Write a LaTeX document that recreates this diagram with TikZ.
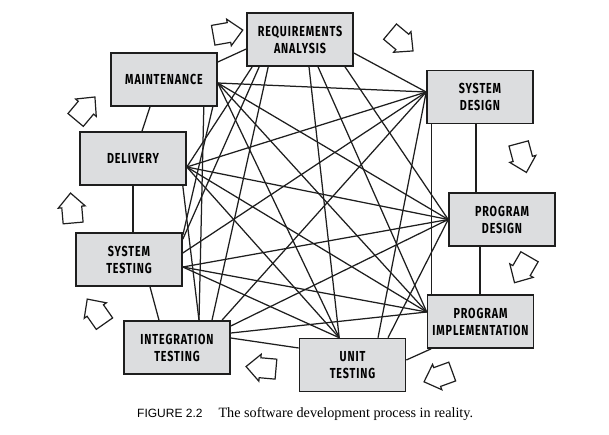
\documentclass[tikz,border=0pt]{standalone}
\usepackage{fontspec}
\newfontfamily\boxfont[FakeStretch=0.74,LetterSpace=6]{Fira Sans}
\newfontfamily\capsans{Liberation Sans}
\newfontfamily\capserif{Liberation Serif}
\definecolor{boxfill}{HTML}{DCDDDF}
\definecolor{ink}{HTML}{1E1E1E}
\pgfdeclarelayer{background}
\pgfsetlayers{background,main}
\tikzset{
  stage/.style={draw=ink, line width=1.6pt, fill=boxfill, minimum width=106pt,
    minimum height=53pt, inner sep=0pt, align=center,
    font=\boxfont\bfseries\fontsize{14.5}{17}\selectfont},
  link/.style={draw=ink, line width=1.25pt},
  cyclearrow/.pic={\draw[ink, line width=1.2pt, fill=white, line join=miter]
    (-13,-10) -- (3,-10) -- (3,-13.5) -- (17,0) -- (3,13.5) -- (3,10) -- (-13,10) -- cycle;}
}
\begin{document}
\begin{tikzpicture}[x=1pt,y=1pt]
\useasboundingbox (0,0) rectangle (609,-434);
\node[stage] (ra) at (300,-39.5) {REQUIREMENTS\\ANALYSIS};
\node[stage] (m)  at (164,-79.5) {MAINTENANCE};
\node[stage] (d)  at (133,-158.5) {DELIVERY};
\node[stage] (sd) at (480,-97) {SYSTEM\\DESIGN};
\node[stage] (pd) at (502,-219.5) {PROGRAM\\DESIGN};
\node[stage] (pi) at (480.5,-321.5) {PROGRAM\\IMPLEMENTATION};
\node[stage] (ut) at (352.5,-365) {UNIT\\TESTING};
\node[stage] (it) at (177,-347.5) {INTEGRATION\\TESTING};
\node[stage] (st) at (129,-259.5) {SYSTEM\\TESTING};
\begin{pgfonlayer}{background}
% Requirements analysis
\draw[link] ([yshift=-9.5pt]ra.west) -- ([yshift=17.5pt]m.east);
\draw[link] ([yshift=-13.5pt]ra.east) -- ([yshift=5pt]sd.west);
\draw[link] ([xshift=6pt]ra.south west) -- ([yshift=-8.5pt]d.east);
\draw[link] ([xshift=13pt]ra.south west) -- ([yshift=-7pt]st.north east);
\draw[link] ([xshift=22pt]ra.south west) -- ([xshift=35pt]it.north);
\draw[link] ([xshift=9pt]ra.south) -- ([xshift=40.5pt]ut.north west);
\draw[link] ([xshift=18pt]ra.south) -- ([yshift=9.5pt]pi.west);
\draw[link] ([xshift=45pt]ra.south) -- (pd.west);
% Maintenance
\draw[link] ([xshift=-14pt]m.south) -- ([xshift=9pt]d.north);
\draw[link] ([xshift=-14pt]m.south east) -- ([xshift=22pt]it.north);
\draw[link] ([xshift=-5pt]m.south east) -- ([yshift=-3pt]st.north east);
\draw[link] ([yshift=-3.5pt]m.east) -- ([yshift=5pt]sd.west);
\draw[link] ([yshift=-3.5pt]m.east) -- (pd.west);
\draw[link] ([yshift=-3.5pt]m.east) -- ([yshift=9.5pt]pi.west);
\draw[link] ([yshift=-3.5pt]m.east) -- ([xshift=40.5pt]ut.north west);
% Delivery
\draw[link] (d.south) -- ([xshift=4pt]st.north);
\draw[link] ([xshift=-4pt]d.south east) -- ([xshift=22pt]it.north);
\draw[link] ([yshift=-8.5pt]d.east) -- ([yshift=5pt]sd.west);
\draw[link] ([yshift=-8.5pt]d.east) -- (pd.west);
\draw[link] ([yshift=-8.5pt]d.east) -- ([yshift=9.5pt]pi.west);
\draw[link] ([yshift=-8.5pt]d.east) -- ([xshift=40.5pt]ut.north west);
% System testing
\draw[link] ([xshift=21pt]st.south) -- ([xshift=-18pt]it.north);
\draw[link] ([yshift=6.5pt]st.east) -- ([yshift=5pt]sd.west);
\draw[link] ([yshift=-7.5pt]st.east) -- (pd.west);
\draw[link] ([yshift=-7.5pt]st.east) -- ([yshift=9.5pt]pi.west);
\draw[link] ([yshift=-7.5pt]st.east) -- ([xshift=40.5pt]ut.north west);
% Integration testing
\draw[link] ([yshift=9.5pt]it.east) -- ([yshift=17pt]ut.west);
\draw[link] ([xshift=45pt]it.north) -- ([yshift=5pt]sd.west);
\draw[link] ([yshift=21.5pt]it.east) -- (pd.west);
\draw[link] ([yshift=14.5pt]it.east) -- ([yshift=9.5pt]pi.west);
% Unit testing
\draw[link] ([yshift=5pt]ut.east) -- ([xshift=4.5pt]pi.south west);
\draw[link] ([xshift=25.5pt]ut.north) -- ([yshift=5pt]sd.west);
\draw[link] ([xshift=35.5pt]ut.north) -- (pd.west);
% Program implementation / design
\draw[link] ([xshift=-0.5pt]pi.north) -- ([xshift=-22pt]pd.south);
\draw[link] ([xshift=4.5pt]pi.north west) -- ([xshift=5pt]sd.south west);
\draw[link] ([xshift=-26pt]pd.north) -- ([xshift=-4pt]sd.south);
\end{pgfonlayer}
% cycle arrows
\pic[rotate=10]   at (226,-33)  {cyclearrow};
\pic[rotate=-40]  at (400,-40)  {cyclearrow};
\pic[rotate=-75]  at (522,-156) {cyclearrow};
\pic[rotate=-120] at (523,-268) {cyclearrow};
\pic[rotate=-160] at (440,-376) {cyclearrow};
\pic[rotate=175]  at (263,-368) {cyclearrow};
\pic[rotate=125]  at (97,-313)  {cyclearrow};
\pic[rotate=95]   at (72,-210)  {cyclearrow};
\pic[rotate=50]   at (84,-110)  {cyclearrow};
% caption
\node[anchor=base west, inner sep=0pt] (cap) at (137,-417)
  {{\capsans\fontsize{12}{14}\selectfont FIGURE 2.2}\hspace{16pt}{\capserif\fontsize{14.2}{16}\selectfont The software development process in reality.}};
\end{tikzpicture}
\end{document}
